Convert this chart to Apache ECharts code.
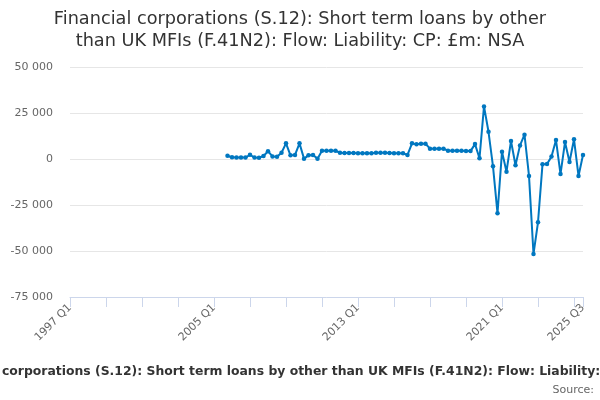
<!DOCTYPE html>
<html><head><meta charset="utf-8">
<script src="https://cdn.jsdelivr.net/npm/echarts@6/dist/echarts.min.js"></script>
<style>html,body{margin:0;padding:0;background:#fff}#c{width:600px;height:400px}</style>
</head><body><div id="c"></div>
<script>
const startYear = 1997;
const quarterCount = 115; // 1997 Q1 .. 2025 Q3
const firstDataIndex = 35; // 2005 Q4
const values = [
  1800, 900, 800, 800, 800, 2300, 800, 700, 1600, 4200,
  1400, 1200, 3400, 8500, 2000, 2200, 8500, 200, 2000, 2200,
  200, 4500, 4500, 4500, 4500, 3400, 3300, 3300, 3300, 3100,
  3100, 3100, 3100, 3400, 3400, 3400, 3300, 3100, 3100, 3100,
  2200, 8500, 8000, 8300, 8300, 5600, 5600, 5600, 5600, 4500,
  4500, 4500, 4500, 4300, 4300, 8100, 400, 28600, 14800, -4000,
  -29500, 4000, -6900, 9800, -3400, 7400, 13200, -9200, -51600, -34400,
  -2900, -2700, 1300, 10300, -8200, 9200, -1600, 10700, -9200, 2200
];
const yTicks = [-75000, -50000, -25000, 0, 25000, 50000];
const titleText = 'Financial corporations (S.12): Short term loans by other\nthan UK MFIs (F.41N2): Flow: Liability: CP: £m: NSA';
const captionText = 'Financial corporations (S.12): Short term loans by other than UK MFIs (F.41N2): Flow: Liability: CP: £m: NSA';
const captionHidden = 'Financial ';

const categories = [];
for (let i = 0; i < quarterCount; i++) {
  categories.push((startYear + Math.floor(i / 4)) + ' Q' + (i % 4 + 1));
}
const seriesData = categories.map((c, i) => (i >= firstDataIndex && i - firstDataIndex < values.length) ? values[i - firstDataIndex] : null);
const lastIdx = quarterCount - 1;
const fmt = v => {
  const s = Math.abs(v).toString().replace(/\B(?=(\d{3})+(?!\d))/g, ' ');
  return (v < 0 ? '-' : '') + s;
};

const capFont = 'bold 12.4px "DejaVu Sans"';
const mc = document.createElement('canvas').getContext('2d');
mc.font = capFont;
const capLeft = 2 - mc.measureText(captionHidden).width;

const chart = echarts.init(document.getElementById('c'), null, {renderer: 'canvas'});
chart.setOption({
  animation: false,
  backgroundColor: '#ffffff',
  textStyle: {fontFamily: 'DejaVu Sans'},
  title: {
    text: titleText, left: 'center', top: 3,
    textStyle: {fontSize: 17.7, fontWeight: 'normal', color: '#333333', lineHeight: 22, fontFamily: 'DejaVu Sans'}
  },
  grid: {left: 70, right: 17, top: 67, bottom: 103, containLabel: false},
  xAxis: {
    type: 'category', data: categories, boundaryGap: false,
    axisLine: {onZero: false, lineStyle: {color: '#ccd6eb'}},
    axisTick: {length: 10, lineStyle: {color: '#ccd6eb'}, interval: (i) => i % 8 === 0 || i === lastIdx},
    axisLabel: {rotate: 45, color: '#666666', fontSize: 11, margin: 9, interval: (i) => i % 32 === 0 || i === lastIdx},
    splitLine: {show: false}
  },
  yAxis: {
    type: 'value', min: yTicks[0], max: yTicks[yTicks.length - 1], interval: 25000,
    axisLine: {show: false}, axisTick: {show: false},
    axisLabel: {color: '#666666', fontSize: 11, margin: 17, formatter: fmt},
    splitLine: {lineStyle: {color: '#e6e6e6'}}
  },
  series: [{
    type: 'line', data: seriesData, connectNulls: false,
    symbol: 'circle', symbolSize: 4.5, showSymbol: true, showAllSymbol: true,
    lineStyle: {color: '#0077c0', width: 2},
    itemStyle: {color: '#0077c0'}
  }],
  graphic: [
    {type: 'text', x: capLeft, y: 366, style: {text: captionText, font: capFont, fill: '#333333'}},
    {type: 'text', right: 6, top: 385, style: {text: 'Source:', fontSize: 11, fill: '#666666', fontFamily: 'DejaVu Sans'}}
  ]
});
</script></body></html>
